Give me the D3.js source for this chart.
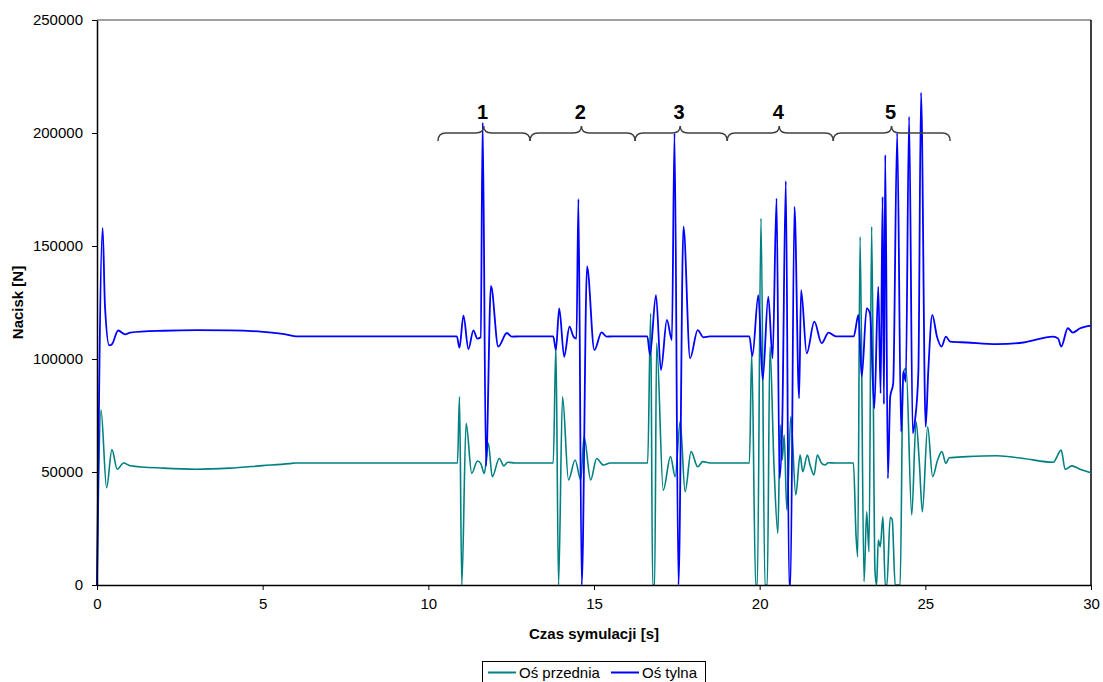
<!DOCTYPE html>
<html>
<head>
<meta charset="utf-8">
<script src="https://cdn.jsdelivr.net/npm/d3@7"></script>
<style>
  body { margin: 0; background: #fff; }
  svg { font-family: Arial, "Liberation Sans", sans-serif; }
</style>
</head>
<body>
<svg width="1103" height="682"></svg>
<script>
// Oś tylna (rear axle) - time [s] and load [N]
var rearT = [0, 0.17, 0.24, 0.37, 0.45, 0.64, 0.85, 1.0, 2.0, 3.0, 4.0, 5.0, 5.8, 6.0,
  10.86, 10.94, 11.06, 11.21, 11.36, 11.48, 11.58, 11.64, 11.74, 11.89, 12.11, 12.37, 12.52, 12.75,
  13.77, 13.85, 13.95, 14.10, 14.26, 14.38, 14.47, 14.53, 14.63, 14.79, 15.01, 15.23, 15.38, 15.55,
  16.61, 16.69, 16.87, 17.02, 17.20, 17.35, 17.43, 17.55, 17.70, 17.90, 18.13, 18.30, 18.50,
  19.69, 19.78, 19.96, 20.09, 20.26, 20.39, 20.51, 20.60, 20.68, 20.79, 20.89, 20.93, 21.05, 21.19, 21.25, 21.42, 21.65, 21.87, 22.08, 22.30,
  22.84, 22.98, 23.08, 23.23, 23.33, 23.46, 23.58, 23.65, 23.71, 23.75, 23.79, 23.87, 23.94, 24.03, 24.15, 24.27, 24.34, 24.41,
  24.51, 24.62, 24.69, 24.79, 24.87, 25.01, 25.09, 25.21, 25.35, 25.49, 25.62, 25.75, 26.25, 27.15, 27.96, 28.86, 29.01, 29.10,
  29.30, 29.45, 29.67, 30.0];
var rearV = [0, 158000, 123600, 106000, 106500, 112600, 110900, 111700, 112500, 112800, 112700, 112000, 110600, 110000,
  110000, 105000, 119200, 104400, 112700, 109000, 109600, 204600, 52700, 132400, 105500, 111500, 109900, 110000,
  110000, 104000, 122400, 101000, 114300, 109900, 109000, 170800, 0, 141000, 104000, 111800, 109900, 110000,
  110000, 101800, 128300, 95100, 117300, 108400, 199900, 0, 158600, 100300, 112800, 109600, 110000,
  110000, 101300, 128300, 90700, 127600, 100300, 171100, 47200, 70800, 178700, 0, 0, 167400, 82600, 130500, 102500, 116500, 107000, 111700, 110000,
  110000, 119500, 92200, 122400, 120200, 78200, 132000, 84800, 171800, 80000, 190300, 47200, 83300, 89200, 200000, 67800, 94400, 90000,
  207200, 67100, 73000, 94400, 217800, 70000, 95100, 119500, 110000, 105500, 109900, 107700, 107300, 106600, 107300, 109900, 109000, 105500,
  113600, 111700, 113600, 114800];

// Oś przednia (front axle)
var frontT = [0, 0.12, 0.29, 0.45, 0.61, 0.80, 1.0, 2.0, 3.0, 4.0, 5.0, 5.8, 6.0,
  10.88, 10.94, 11.01, 11.14, 11.31, 11.48, 11.58, 11.69, 11.81, 11.93, 12.14, 12.28, 12.40, 12.62,
  13.77, 13.85, 13.93, 14.05, 14.23, 14.43, 14.60, 14.70, 14.90, 15.08, 15.28, 15.49,
  16.62, 16.71, 16.77, 16.83, 16.89, 17.09, 17.31, 17.45, 17.60, 17.75, 17.93, 18.13, 18.28, 18.50,
  19.69, 19.76, 19.88, 19.93, 20.04, 20.16, 20.23, 20.31, 20.43, 20.55, 20.62, 20.68, 20.74, 20.82, 20.94, 21.09, 21.22, 21.30, 21.44, 21.52, 21.64, 21.74, 21.87, 21.97, 22.07, 22.28,
  22.83, 22.91, 22.96, 23.03, 23.15, 23.23, 23.30, 23.38, 23.48, 23.53, 23.58, 23.64, 23.72, 23.79, 23.84, 23.94, 24.00, 24.09, 24.24,
  24.33, 24.42, 24.59, 24.72, 24.82, 24.91, 25.07, 25.22, 25.37, 25.50, 25.62, 25.72, 26.25, 27.16, 27.96, 28.86, 29.10, 29.22, 29.42, 29.67, 30.0];
var frontV = [0, 77400, 43000, 59900, 51200, 54000, 52800, 51700, 51200, 51700, 52800, 53700, 54000,
  54000, 83300, 0, 71500, 49400, 54900, 53800, 49400, 62700, 47900, 56000, 52700, 54300, 54000,
  54000, 106000, 0, 83300, 46500, 55300, 46500, 65600, 46500, 56000, 53100, 54000,
  54000, 120200, 0, 0, 107000, 42000, 56800, 47900, 72300, 41300, 59000, 52300, 54600, 54000,
  54000, 102500, 0, 0, 162300, 0, 0, 105400, 53800, 22900, 70800, 55300, 66400, 33200, 74500, 39800, 57500, 50100, 57500, 53100, 48700, 57500, 53800, 53100, 54100, 54000,
  54000, 21400, 12500, 154100, 1500, 32400, 14700, 158600, 6600, 0, 19900, 16900, 30200, 0, 0, 30000, 29000, 0, 0,
  93800, 95900, 31000, 72300, 54000, 32400, 70000, 47900, 55300, 59000, 53800, 56300, 56800, 57200, 56000, 54300, 59700, 51200, 52700, 51200, 49700];

var xTicks = [0, 5, 10, 15, 20, 25, 30];
var yTicks = [0, 50000, 100000, 150000, 200000, 250000];

// braces over the five manoeuvres: joints and cusps in seconds
var braceLabels = ["1", "2", "3", "4", "5"];
var braceJoints = [10.29, 13.07, 16.24, 19.02, 22.22, 25.75];
var braceTips = [11.67, 14.62, 17.60, 20.59, 23.98];
var braceLevel = 200000;

var svg = d3.select("svg");
var plotL = 97, plotR = 1091, plotT = 20, plotB = 585;

var x = d3.scaleLinear().domain([0, 30]).range([plotL, plotR]);
var y = d3.scaleLinear().domain([0, 250000]).range([plotB, plotT]);

// plot frame (top/right)
svg.append("line").attr("x1", plotL).attr("x2", plotR).attr("y1", plotT).attr("y2", plotT)
  .attr("stroke", "#808080").attr("stroke-width", 1.5);
svg.append("line").attr("x1", plotR).attr("x2", plotR).attr("y1", plotT).attr("y2", plotB)
  .attr("stroke", "#000").attr("stroke-width", 1.5);

var line = d3.line()
  .x(function(d) { return x(d[0]); })
  .y(function(d) { return y(d[1]); })
  .curve(d3.curveMonotoneX);

var front = frontT.map(function(t, i) { return [t, frontV[i]]; });
var rear = rearT.map(function(t, i) { return [t, rearV[i]]; });

svg.append("path").datum(front)
  .attr("d", line).attr("fill", "none")
  .attr("stroke", "#008080").attr("stroke-width", 1.6);
svg.append("path").datum(rear)
  .attr("d", line).attr("fill", "none")
  .attr("stroke", "#0000ff").attr("stroke-width", 1.8);

// axes
var yAxis = svg.append("g").attr("transform", "translate(" + plotL + ",0)")
  .call(d3.axisLeft(y).tickValues(yTicks).tickFormat(d3.format("d")).tickSize(5).tickSizeOuter(0).tickPadding(7));
var xAxis = svg.append("g").attr("transform", "translate(0," + plotB + ")")
  .call(d3.axisBottom(x).tickValues(xTicks).tickFormat(d3.format("d")).tickSize(5).tickSizeOuter(0).tickPadding(8));
[xAxis, yAxis].forEach(function(g) {
  g.select(".domain").attr("stroke", "#000").attr("stroke-width", 1.5);
  g.selectAll(".tick line").attr("stroke", "#000");
  g.selectAll("text").attr("font-size", 15).attr("font-family", "Arial, 'Liberation Sans', sans-serif").attr("fill", "#000");
});
yAxis.selectAll("text").attr("dx", "-2");

// axis titles
svg.append("text").attr("x", x(15)).attr("y", 639)
  .attr("text-anchor", "middle").attr("font-weight", "bold").attr("font-size", 15)
  .text("Czas symulacji [s]");
svg.append("text").attr("transform", "translate(23," + y(125000) + ") rotate(-90)")
  .attr("text-anchor", "middle").attr("font-weight", "bold").attr("font-size", 15)
  .text("Nacisk [N]");

// braces
var yb = y(braceLevel), r = 8;
braceLabels.forEach(function(lbl, i) {
  var x0 = x(braceJoints[i]), x1 = x(braceJoints[i + 1]), xm = x(braceTips[i]);
  var p = "M" + x0 + "," + (yb + r) +
    " Q" + x0 + "," + yb + " " + (x0 + r) + "," + yb +
    " L" + (xm - r) + "," + yb +
    " Q" + xm + "," + yb + " " + xm + "," + (yb - 7) +
    " Q" + xm + "," + yb + " " + (xm + r) + "," + yb +
    " L" + (x1 - r) + "," + yb +
    " Q" + x1 + "," + yb + " " + x1 + "," + (yb + r);
  svg.append("path").attr("d", p).attr("fill", "none")
    .attr("stroke", "#404040").attr("stroke-width", 1.5);
  svg.append("text").attr("x", xm - 1).attr("y", yb - 14)
    .attr("text-anchor", "middle").attr("font-weight", "bold").attr("font-size", 20)
    .text(lbl);
});

// legend
var lg = svg.append("g");
lg.append("rect").attr("x", 482.5).attr("y", 661.5).attr("width", 223).attr("height", 30)
  .attr("fill", "#fff").attr("stroke", "#000").attr("stroke-width", 1);
var items = [["Oś przednia", "#008080", 488], ["Oś tylna", "#0000ff", 611]];
items.forEach(function(it) {
  lg.append("line").attr("x1", it[2]).attr("x2", it[2] + 28).attr("y1", 672.5).attr("y2", 672.5)
    .attr("stroke", it[1]).attr("stroke-width", 2);
  lg.append("text").attr("x", it[2] + 31).attr("y", 677.5).attr("font-size", 15).text(it[0]);
});
</script>
</body>
</html>
